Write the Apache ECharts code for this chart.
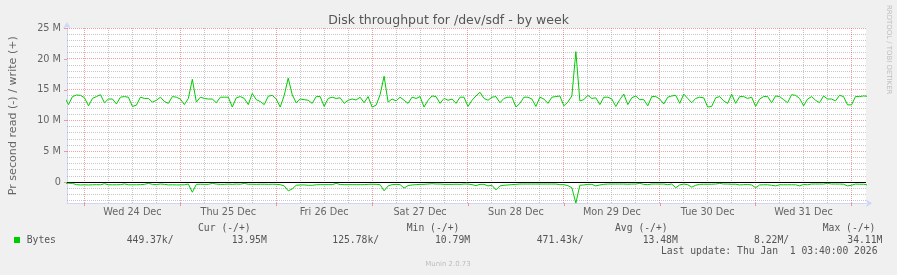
<!DOCTYPE html>
<html><head><meta charset="utf-8">
<script src="https://cdn.jsdelivr.net/npm/echarts@6/dist/echarts.min.js"></script>
<style>html,body{margin:0;padding:0;background:#F0F0F0;}#c{width:897px;height:275px;}</style>
</head><body><div id="c"></div>
<script>
// hours relative to Wed 24 Dec 00:00; one sample per hour starting at T0
const T0 = -5;
const STEP = 1;
const dayLabels = ['Wed 24 Dec','Thu 25 Dec','Fri 26 Dec','Sat 27 Dec','Sun 28 Dec','Mon 29 Dec','Tue 30 Dec','Wed 31 Dec'];
const dayLabelHours = [12,36,60,84,108,132,156,180];
const yTickValues = [0,5,10,15,20,25];
const titleText = 'Disk throughput for /dev/sdf - by week';
const yAxisName = 'Pr second read (-) / write (+)';
const seriesName = 'Bytes';
const legendHeaders = ['Cur (-/+)','Min (-/+)','Avg (-/+)','Max (-/+)'];
const legendValues = ['449.37k/','13.95M','125.78k/','10.79M','471.43k/','13.48M','8.22M/','34.11M'];
const lastUpdate = 'Last update: Thu Jan  1 03:40:00 2026';
const watermark = 'RRDTOOL / TOBI OETIKER';
const footer = 'Munin 2.0.73';

// write (+), MB/s
const writeValues = [
  13.8, 12.6, 13.9, 14.15, 14.1,
  13.7, 12.4, 13.6, 13.9, 14.2, 12.9, 13.5, 13.5, 12.7, 13.8, 13.9, 13.8, 12.3, 12.5, 13.8, 13.6, 13.6, 13.0, 13.3, 13.8, 13.1, 12.8, 13.9, 13.8,
  13.5, 12.6, 13.6, 16.7, 13.0, 13.8, 13.6, 13.5, 13.5, 12.9, 13.8, 13.8, 13.8, 12.2, 13.7, 13.9, 13.6, 12.6, 14.4, 13.4, 13.1, 12.6, 13.95, 14.1,
  13.5, 12.2, 14.1, 16.9, 14.2, 12.9, 13.5, 13.4, 13.3, 12.8, 13.9, 13.9, 12.3, 13.6, 13.8, 13.6, 13.7, 12.8, 13.3, 13.5, 13.35, 13.8, 12.9, 13.9,
  12.2, 12.5, 14.2, 17.2, 13.0, 13.5, 13.2, 13.8, 13.3, 12.8, 13.8, 13.6, 13.9, 12.2, 13.3, 14.0, 13.9, 12.8, 13.6, 13.3, 13.5, 12.8, 13.8, 13.8,
  12.3, 13.3, 14.0, 14.6, 13.6, 13.3, 13.8, 13.9, 12.9, 13.6, 13.8, 13.8, 12.2, 12.8, 13.8, 13.8, 13.5, 12.3, 13.8, 13.5, 12.8, 13.8, 13.9, 14.0,
  12.4, 13.0, 14.0, 21.2, 13.2, 13.4, 14.1, 13.6, 13.7, 12.6, 13.8, 13.8, 13.5, 12.3, 13.4, 14.3, 12.6, 13.7, 14.0, 13.4, 13.4, 12.4, 13.9, 13.9,
  13.5, 12.7, 13.8, 14.0, 14.1, 12.8, 14.3, 13.6, 12.9, 13.6, 13.8, 13.7, 12.2, 12.3, 13.7, 13.9, 13.2, 12.8, 14.3, 12.8, 13.9, 13.9, 13.6, 13.8,
  12.3, 13.5, 13.9, 13.9, 12.9, 14.0, 13.9, 13.4, 12.9, 14.2, 14.1, 13.6, 12.4, 13.5, 13.9, 13.3, 12.9, 14.0, 13.5, 13.5, 13.2, 14.1, 13.9, 12.55,
  12.55, 13.9, 13.9, 14.0, 13.95
];
// read (-), MB/s magnitude
const readValues = [
  0.2, 0.17, 0.2, 0.4, 0.45,
  0.42, 0.45, 0.42, 0.4, 0.42, 0.25, 0.42, 0.42, 0.42, 0.4, 0.28, 0.42, 0.42, 0.42, 0.4, 0.35, 0.2, 0.35, 0.38, 0.3, 0.35, 0.44, 0.42, 0.44,
  0.44, 0.42, 0.3, 1.63, 0.35, 0.33, 0.35, 0.35, 0.2, 0.3, 0.35, 0.35, 0.3, 0.35, 0.3, 0.33, 0.2, 0.33, 0.33, 0.35, 0.33, 0.33, 0.35, 0.33,
  0.35, 0.4, 0.6, 1.4, 1.1, 0.5, 0.45, 0.44, 0.5, 0.5, 0.42, 0.4, 0.4, 0.4, 0.4, 0.2, 0.38, 0.4, 0.4, 0.4, 0.4, 0.4, 0.4, 0.35,
  0.33, 0.35, 0.4, 1.4, 0.6, 0.4, 0.35, 0.4, 0.95, 0.55, 0.45, 0.4, 0.35, 0.35, 0.3, 0.25, 0.3, 0.3, 0.35, 0.35, 0.35, 0.33, 0.35, 0.3,
  0.3, 0.4, 0.55, 0.35, 0.35, 0.6, 0.5, 1.25, 0.6, 0.5, 0.45, 0.4, 0.35, 0.3, 0.3, 0.3, 0.3, 0.3, 0.3, 0.3, 0.3, 0.3, 0.3, 0.4,
  0.4, 0.55, 0.9, 3.4, 0.5, 0.45, 0.35, 0.35, 0.6, 0.45, 0.35, 0.3, 0.3, 0.3, 0.3, 0.3, 0.33, 0.3, 0.3, 0.2, 0.35, 0.4, 0.3, 0.3,
  0.3, 0.3, 0.4, 0.3, 0.9, 0.45, 0.3, 0.4, 0.8, 0.5, 0.35, 0.33, 0.33, 0.33, 0.3, 0.2, 0.3, 0.3, 0.33, 0.33, 0.45, 0.4, 0.38, 0.45,
  0.9, 0.45, 0.42, 0.42, 0.5, 0.6, 0.42, 0.42, 0.42, 0.42, 0.42, 0.6, 0.35, 0.42, 0.3, 0.3, 0.3, 0.3, 0.2, 0.3, 0.3, 0.3, 0.33, 0.6,
  0.5, 0.3, 0.33, 0.33, 0.45
];

const X_MIN = -4.375, X_MAX = 195.625;
const Y_MIN = -3.4, Y_MAX = 25;
const LINE = '#00CC00';
const FONT = '#666666';
const AXISC = '#CFD6F8';
const MINOR = 'rgba(143,143,143,0.5)';
const MAJOR = 'rgba(225,50,50,0.45)';

// grid line values (axis structure): [x, y, direction(0=vertical,1=horizontal), kind(0 minor,1 major,2 zero)]
const vMinor = [], vMajor = [];
for (let h = 0; h <= X_MAX; h += 6) { (h % 24 === 0 ? vMajor : vMinor).push(h); }
const hMinor = [], hMajor = [];
for (let m = -3; m <= Y_MAX; m += 1) { if (m === 0) continue; (m % 5 === 0 ? hMajor : hMinor).push(m); }
const gridData = [];
vMinor.forEach(h => gridData.push([h, 0, 0, 0]));
hMinor.forEach(m => gridData.push([0, m, 1, 0]));
vMajor.forEach(h => gridData.push([h, 0, 0, 1]));
hMajor.forEach(m => gridData.push([0, m, 1, 1]));
gridData.push([0, 0, 1, 1]);
const zeroData = [[0, 0, 1, 2]];

function renderGrid(params, api) {
  const v = api.value(0), m = api.value(1), dir = api.value(2), kind = api.value(3);
  let x1, y1, x2, y2;
  if (dir === 0) {
    const a = api.coord([v, Y_MAX]), b = api.coord([v, Y_MIN]);
    x1 = x2 = Math.floor(a[0]) + 0.5; y1 = Math.floor(a[1]); y2 = Math.ceil(b[1]);
  } else {
    const a = api.coord([X_MIN, m]), b = api.coord([X_MAX, m]);
    y1 = y2 = Math.floor(a[1]) + 0.5; x1 = Math.floor(a[0]); x2 = Math.ceil(b[0]);
  }
  return {
    type: 'line', silent: true,
    shape: { x1: x1, y1: y1, x2: x2, y2: y2 },
    style: { stroke: kind === 0 ? MINOR : (kind === 1 ? MAJOR : '#000000'), lineWidth: 1, lineDash: kind === 2 ? null : [1, 1] }
  };
}

const mono = '"DejaVu Sans Mono", monospace';
const sans = '"DejaVu Sans", sans-serif';
const LEG = 9.72;
const txt = (text, x, y, opt) => Object.assign({
  type: 'text', x: x, y: y, silent: true,
  style: Object.assign({ text: text, fill: '#555555', font: LEG + 'px ' + mono, textVerticalAlign: 'middle', textAlign: 'left' }, opt || {})
});

const headerX = [198, 406.7, 615, 822.7];
const valueX = [126.7, 231.7, 332.3, 435, 536.7, 642.7, 754, 847.3];
const graphics = [
  txt(titleText, 448.5, 21, { font: '12.5px ' + sans, fill: '#555555', textAlign: 'center' }),
  txt(watermark, 888.5, 5, { font: '6.94px ' + sans, fill: '#BDBDBD', textAlign: 'left' }),
  txt(footer, 448, 264, { font: '6.94px ' + sans, fill: '#BDBDBD', textAlign: 'center' }),
  { type: 'rect', silent: true, shape: { x: 14, y: 237, width: 6, height: 6 }, style: { fill: LINE } },
  txt(seriesName, 26.7, 240),
  txt(lastUpdate, 661, 251)
];
graphics[1].rotation = -Math.PI / 2;
legendHeaders.forEach((h, i) => graphics.push(txt(h, headerX[i], 228)));
legendValues.forEach((v, i) => graphics.push(txt(v, valueX[i], 240)));

const chart = echarts.init(document.getElementById('c'), null, { renderer: 'canvas' });
chart.setOption({
  animation: false,
  backgroundColor: '#F0F0F0',
  grid: { left: 66, right: 31, top: 28.2, bottom: 71.86, show: true, backgroundColor: '#FFFFFF', borderWidth: 0 },
  xAxis: {
    type: 'value', min: X_MIN, max: X_MAX,
    axisLine: { show: true, onZero: false, lineStyle: { color: AXISC, width: 1 }, symbol: ['none', 'arrow'], symbolSize: [6, 6], symbolOffset: [0, 6] },
    axisTick: { show: true, customValues: vMajor, length: 3, lineStyle: { color: MAJOR } },
    axisLabel: { customValues: dayLabelHours, color: FONT, fontFamily: sans, fontSize: 9.72, margin: 4,
      formatter: v => { const i = dayLabelHours.indexOf(v); return i >= 0 ? dayLabels[i] : ''; } },
    splitLine: { show: false }
  },
  yAxis: {
    type: 'value', min: Y_MIN, max: Y_MAX,
    name: yAxisName, nameLocation: 'middle', nameGap: 48, nameRotate: 90,
    nameTextStyle: { color: FONT, fontFamily: sans, fontSize: 11.11 },
    axisLine: { show: true, onZero: false, lineStyle: { color: AXISC, width: 1 }, symbol: ['none', 'arrow'], symbolSize: [6, 6], symbolOffset: [0, 6] },
    axisTick: { show: true, customValues: hMajor.concat([0]), length: 3, lineStyle: { color: MAJOR } },
    axisLabel: { customValues: yTickValues, color: FONT, fontFamily: sans, fontSize: 9.72, margin: 6,
      formatter: v => v === 0 ? '0' : v + ' M' },
    splitLine: { show: false }
  },
  series: [
    { type: 'custom', name: 'grid', z: 1, silent: true, renderItem: renderGrid, data: gridData, encode: { x: 0, y: 1 } },
    { type: 'custom', name: 'zero', z: 2, silent: true, renderItem: renderGrid, data: zeroData, encode: { x: 0, y: 1 } },
    { type: 'line', name: seriesName + ' read', z: 3, showSymbol: false, symbol: 'none',
      lineStyle: { color: LINE, width: 1 }, data: readValues.map((v, i) => [T0 + i * STEP, -v]) },
    { type: 'line', name: seriesName + ' write', z: 3, showSymbol: false, symbol: 'none',
      lineStyle: { color: LINE, width: 1 }, data: writeValues.map((v, i) => [T0 + i * STEP, v]) }
  ],
  graphic: graphics
});
</script></body></html>
